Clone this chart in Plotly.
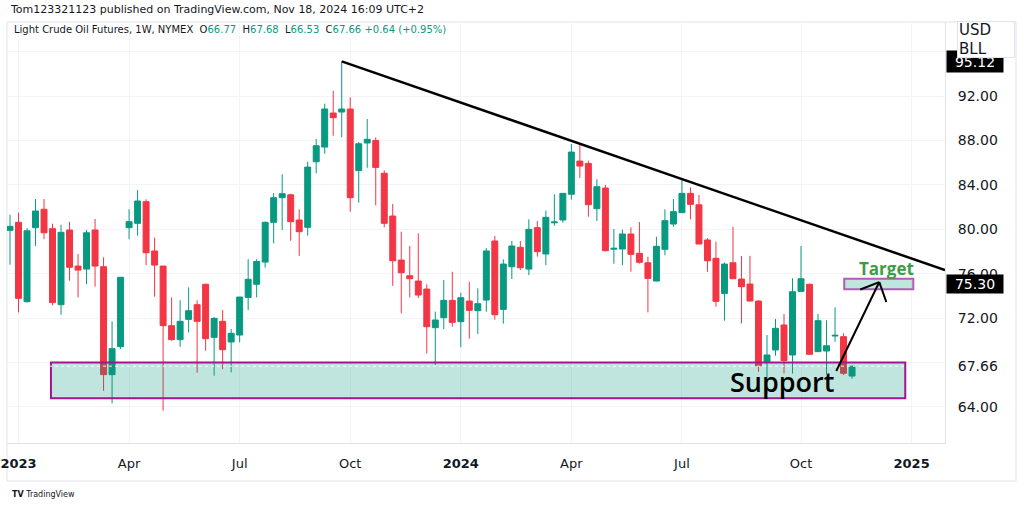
import pandas as pd
import plotly.graph_objects as go

# Light Crude Oil Futures, NYMEX, weekly bars (TradingView screenshot, Nov 18 2024)
semaines = pd.date_range("2022-12-26", periods=100, freq="7D")

ouverture = [79.90, 80.62, 73.47, 80.14, 81.80, 80.05, 73.20, 79.93, 76.68, 76.41,
             79.93, 76.62, 66.90, 69.42, 80.14, 80.53, 82.48, 78.04, 76.68, 71.31,
             70.05, 71.88, 73.20, 75.04, 70.26, 71.70, 69.84, 70.47, 73.86, 75.04,
             77.04, 80.62, 82.84, 83.10, 80.83, 80.17, 86.08, 87.40, 90.47, 90.56,
             90.83, 85.28, 87.77, 88.00, 85.04, 81.19, 77.22, 75.81, 75.33, 74.61,
             71.13, 72.03, 73.59, 71.67, 73.53, 72.66, 73.62, 78.94, 72.78, 76.62,
             78.37, 76.41, 80.14, 77.77, 80.58, 80.83, 83.15, 86.14, 85.93, 81.85,
             83.71, 78.20, 78.22, 79.57, 77.83, 76.98, 75.33, 78.19, 80.47, 81.49,
             83.23, 82.20, 79.03, 77.38, 74.22, 76.98, 75.51, 75.06, 73.53, 68.07,
             69.12, 71.37, 68.67, 74.40, 75.04, 68.97, 69.03, 70.38, 70.32, 66.77]
haut = [81.30, 81.50, 80.10, 82.72, 82.72, 80.50, 80.40, 80.65, 77.77, 79.93,
        80.92, 77.47, 71.70, 75.67, 81.80, 83.53, 82.70, 79.24, 76.70, 73.86,
        73.60, 74.76, 73.60, 75.10, 72.10, 72.72, 71.00, 73.89, 77.30, 77.30,
        80.70, 83.26, 84.95, 83.20, 81.80, 86.08, 88.13, 91.31, 92.48, 95.12,
        91.88, 87.86, 89.93, 88.28, 85.30, 82.27, 79.78, 78.49, 79.63, 75.04,
        72.57, 75.42, 76.17, 74.28, 75.27, 74.67, 78.30, 79.39, 77.29, 78.94,
        78.94, 80.89, 80.74, 81.67, 83.15, 83.23, 87.68, 87.68, 86.17, 84.50,
        84.00, 80.02, 79.96, 80.17, 80.65, 77.53, 79.33, 81.80, 82.72, 84.43,
        83.77, 83.08, 79.20, 78.88, 77.00, 80.23, 77.59, 77.60, 73.60, 70.47,
        71.91, 72.36, 75.58, 78.49, 75.10, 72.36, 71.80, 72.96, 70.62, 67.68]
bas = [76.80, 72.50, 73.40, 78.50, 79.10, 73.14, 72.30, 75.36, 73.86, 75.04,
       74.82, 65.45, 64.30, 69.20, 79.10, 79.42, 76.77, 73.92, 63.64, 69.96,
       69.40, 70.70, 67.07, 69.05, 66.80, 67.40, 67.10, 69.80, 72.72, 73.86,
       76.54, 78.73, 79.93, 78.96, 77.60, 79.42, 85.04, 86.80, 88.42, 88.28,
       81.58, 82.39, 85.54, 82.15, 80.17, 74.90, 72.42, 73.86, 73.80, 68.80,
       67.77, 71.01, 71.22, 69.36, 70.14, 70.56, 72.57, 71.85, 71.49, 75.51,
       76.32, 75.87, 77.53, 76.77, 80.32, 80.59, 82.66, 84.61, 81.13, 80.74,
       78.00, 76.89, 76.77, 76.17, 76.90, 72.51, 75.30, 77.65, 80.23, 81.49,
       80.89, 78.67, 76.17, 73.02, 71.76, 75.54, 71.52, 73.53, 67.16, 65.20,
       68.60, 67.00, 67.00, 74.40, 68.73, 68.97, 66.90, 69.86, 66.86, 66.53]
cloture = [80.26, 73.77, 79.86, 81.64, 79.68, 73.39, 79.72, 76.57, 76.32, 79.68,
           76.68, 66.90, 69.24, 75.67, 80.68, 82.54, 77.88, 76.77, 71.31, 70.05,
           71.70, 72.66, 71.70, 70.14, 71.97, 69.15, 70.62, 73.89, 75.49, 77.10,
           80.62, 82.84, 83.20, 80.68, 79.78, 85.60, 87.52, 90.83, 90.05, 90.83,
           82.84, 87.70, 88.10, 85.57, 80.53, 77.16, 76.08, 75.54, 74.07, 71.22,
           71.82, 73.59, 71.61, 73.83, 72.69, 73.29, 78.04, 72.30, 76.86, 78.49,
           76.53, 79.99, 77.98, 81.07, 80.65, 83.23, 86.95, 85.69, 82.21, 83.83,
           78.07, 78.28, 79.57, 77.74, 77.02, 75.57, 78.46, 80.77, 81.58, 83.23,
           82.24, 78.67, 77.16, 73.50, 76.86, 75.54, 74.82, 73.53, 67.70, 68.67,
           71.07, 68.16, 74.37, 75.54, 68.73, 71.76, 69.50, 70.44, 67.02, 67.66]

# axes
x_ticks = ["2023-01-02", "2023-04-03", "2023-07-03", "2023-10-02", "2024-01-01",
           "2024-04-01", "2024-07-01", "2024-10-07", "2025-01-06"]
x_labels = ["<b>2023</b>", "Apr", "Jul", "Oct", "<b>2024</b>", "Apr", "Jul", "Oct", "<b>2025</b>"]
y_ticks = [64, 67.66, 72, 76, 80, 84, 88, 92]
y_labels = ["64.00", "67.66", "72.00", "76.00", "80.00", "84.00", "88.00", "92.00"]
grille_prix = [64, 68, 72, 76, 80, 84, 88, 92, 96]

# drawings on the chart (dates / prices)
support = dict(x0="2023-01-28 17:00", x1="2024-12-31 19:00", y0=64.77, y1=68.0)
cible = dict(x0="2024-11-11 14:00", x1="2025-01-07 10:00", y0=74.59, y1=75.54)
tendance = dict(x0="2023-09-25", y0=95.12, x1="2025-02-02 12:00", y1=76.32)
fleche = [("2024-11-05", 67.23, "2024-12-10 10:00", 75.24),
          ("2024-11-24 19:00", 74.57, "2024-12-10 10:00", 75.24),
          ("2024-12-16 05:00", 73.44, "2024-12-10 10:00", 75.24)]
dernier_prix = 67.66
plus_haut = 95.12
prix_cible = 75.30

VERT = "#089981"
ROUGE = "#F23645"
TEXTE = "#131722"
BORD = "#E0E3EB"

W, H = 1024, 506
L, R, T, B = 7, 79, 22, 63
pw, ph = W - L - R, H - T - B


def fx(px):
    return (px - L) / pw


def fy(py):
    return (H - B - py) / ph


fig = go.Figure()
fig.add_trace(go.Candlestick(
    x=semaines, open=ouverture, high=haut, low=bas, close=cloture,
    increasing=dict(line=dict(color=VERT, width=1), fillcolor=VERT),
    decreasing=dict(line=dict(color=ROUGE, width=1), fillcolor=ROUGE),
    whiskerwidth=0, showlegend=False, hoverinfo="skip"))

formes = []
# frame around the chart
formes.append(dict(type="rect", xref="paper", yref="paper", x0=fx(7), x1=fx(1016),
                   y0=fy(481), y1=fy(22), line=dict(color=BORD, width=1), layer="below"))
formes.append(dict(type="rect", xref="x", yref="y", **support,
                   fillcolor="rgba(8,153,129,0.26)", line=dict(color="#A3158F", width=2)))
formes.append(dict(type="line", xref="paper", yref="y", x0=0, x1=1, y0=dernier_prix, y1=dernier_prix,
                   line=dict(color="rgba(255,255,255,0.9)", width=1, dash="dot")))
formes.append(dict(type="line", xref="x", yref="y", **tendance, line=dict(color="#000000", width=2.5)))
formes.append(dict(type="rect", xref="x", yref="y", **cible,
                   fillcolor="rgba(8,153,129,0.26)", line=dict(color="#B45CB0", width=2)))
for xa, ya, xb, yb in fleche:
    formes.append(dict(type="line", xref="x", yref="y", x0=xa, y0=ya, x1=xb, y1=yb,
                       line=dict(color="#000000", width=2)))

notes = []
notes.append(dict(xref="paper", yref="paper", x=fx(8), y=fy(10), xanchor="left", yanchor="middle",
                  showarrow=False, text="Tom123321123 published on TradingView.com, Nov 18, 2024 16:09 UTC+2",
                  font=dict(size=11, color=TEXTE)))
legende = ("Light Crude Oil Futures, 1W, NYMEX&nbsp;&nbsp;"
           f"O<span style='color:{VERT}'>66.77</span>&nbsp;&nbsp;H<span style='color:{VERT}'>67.68</span>&nbsp;&nbsp;"
           f"L<span style='color:{VERT}'>66.53</span>&nbsp;&nbsp;C<span style='color:{VERT}'>67.66</span>&nbsp;"
           f"<span style='color:{VERT}'>+0.64 (+0.95%)</span>")
notes.append(dict(xref="paper", yref="paper", x=fx(12), y=fy(30), xanchor="left", yanchor="middle",
                  showarrow=False, text=legende, font=dict(size=10, color=TEXTE)))
notes.append(dict(xref="x", yref="y", x="2024-09-21", y=66.32, showarrow=False, text="Support",
                  font=dict(size=27, color="#000000", family="Open Sans", weight=600)))
notes.append(dict(xref="x", yref="y", x="2024-12-16", y=76.45, showarrow=False, text="<b>Target</b>",
                  font=dict(size=17, color="#3F9B44", family="Open Sans")))
# price scale labels
notes.append(dict(xref="paper", yref="y", x=fx(946), y=plus_haut, xanchor="left",
                  showarrow=False, text=f"{plus_haut:.2f}", bgcolor="#000000", width=54, height=19,
                  font=dict(size=14, color="#FFFFFF", family="DejaVu Sans")))
notes.append(dict(xref="paper", yref="paper", x=fx(957), y=fy(39), xanchor="left", yanchor="middle",
                  showarrow=False, text="USD<br>BLL", align="left", bgcolor="#FFFFFF",
                  bordercolor=BORD, borderwidth=1, width=54, height=33,
                  font=dict(size=15, color=TEXTE, family="DejaVu Sans")))
notes.append(dict(xref="paper", yref="y", x=fx(946), y=prix_cible, yshift=-3, xanchor="left",
                  showarrow=False, text=f"{prix_cible:.2f}", bgcolor="#000000", width=54, height=16,
                  font=dict(size=14, color="#FFFFFF", family="DejaVu Sans")))
notes.append(dict(xref="paper", yref="paper", x=fx(10), y=fy(494), xanchor="left", yanchor="middle",
                  showarrow=False, text="<b>TV</b> TradingView", font=dict(size=8, color=TEXTE)))

fig.update_layout(
    width=W, height=H, margin=dict(l=L, r=R, t=T, b=B),
    paper_bgcolor="#FFFFFF", plot_bgcolor="#FFFFFF",
    font=dict(family="DejaVu Sans", color=TEXTE),
    shapes=formes, annotations=notes, showlegend=False,
    boxgap=0.3, boxgroupgap=0,
    xaxis=dict(type="date", range=["2022-12-23 12:40", "2025-02-02 12:00"],
               rangeslider=dict(visible=False), automargin=False,
               tickmode="array", tickvals=x_ticks, ticktext=x_labels,
               ticks="outside", ticklen=8, tickcolor="rgba(0,0,0,0)",
               tickfont=dict(size=13, color=TEXTE),
               showgrid=True, gridcolor="#F2F4F8", gridwidth=1,
               showline=True, linecolor=BORD, zeroline=False),
    yaxis=dict(side="right", range=[60.74, 98.67], automargin=False,
               tickmode="array", tickvals=y_ticks, ticktext=y_labels,
               ticks="", ticklabelstandoff=9,
               tickfont=dict(size=14, color=TEXTE),
               showgrid=False,
               minor=dict(tickmode="array", tickvals=grille_prix, showgrid=True,
                          gridcolor="#F2F4F8", gridwidth=1, ticks=""),
               showline=True, linecolor=BORD, zeroline=False),
)

# the page body has a default 8px margin; remove it so the figure sits at 0,0
fig.write_html("out.html", config={"displayModeBar": False},
               post_script="document.body.style.margin='0';")
